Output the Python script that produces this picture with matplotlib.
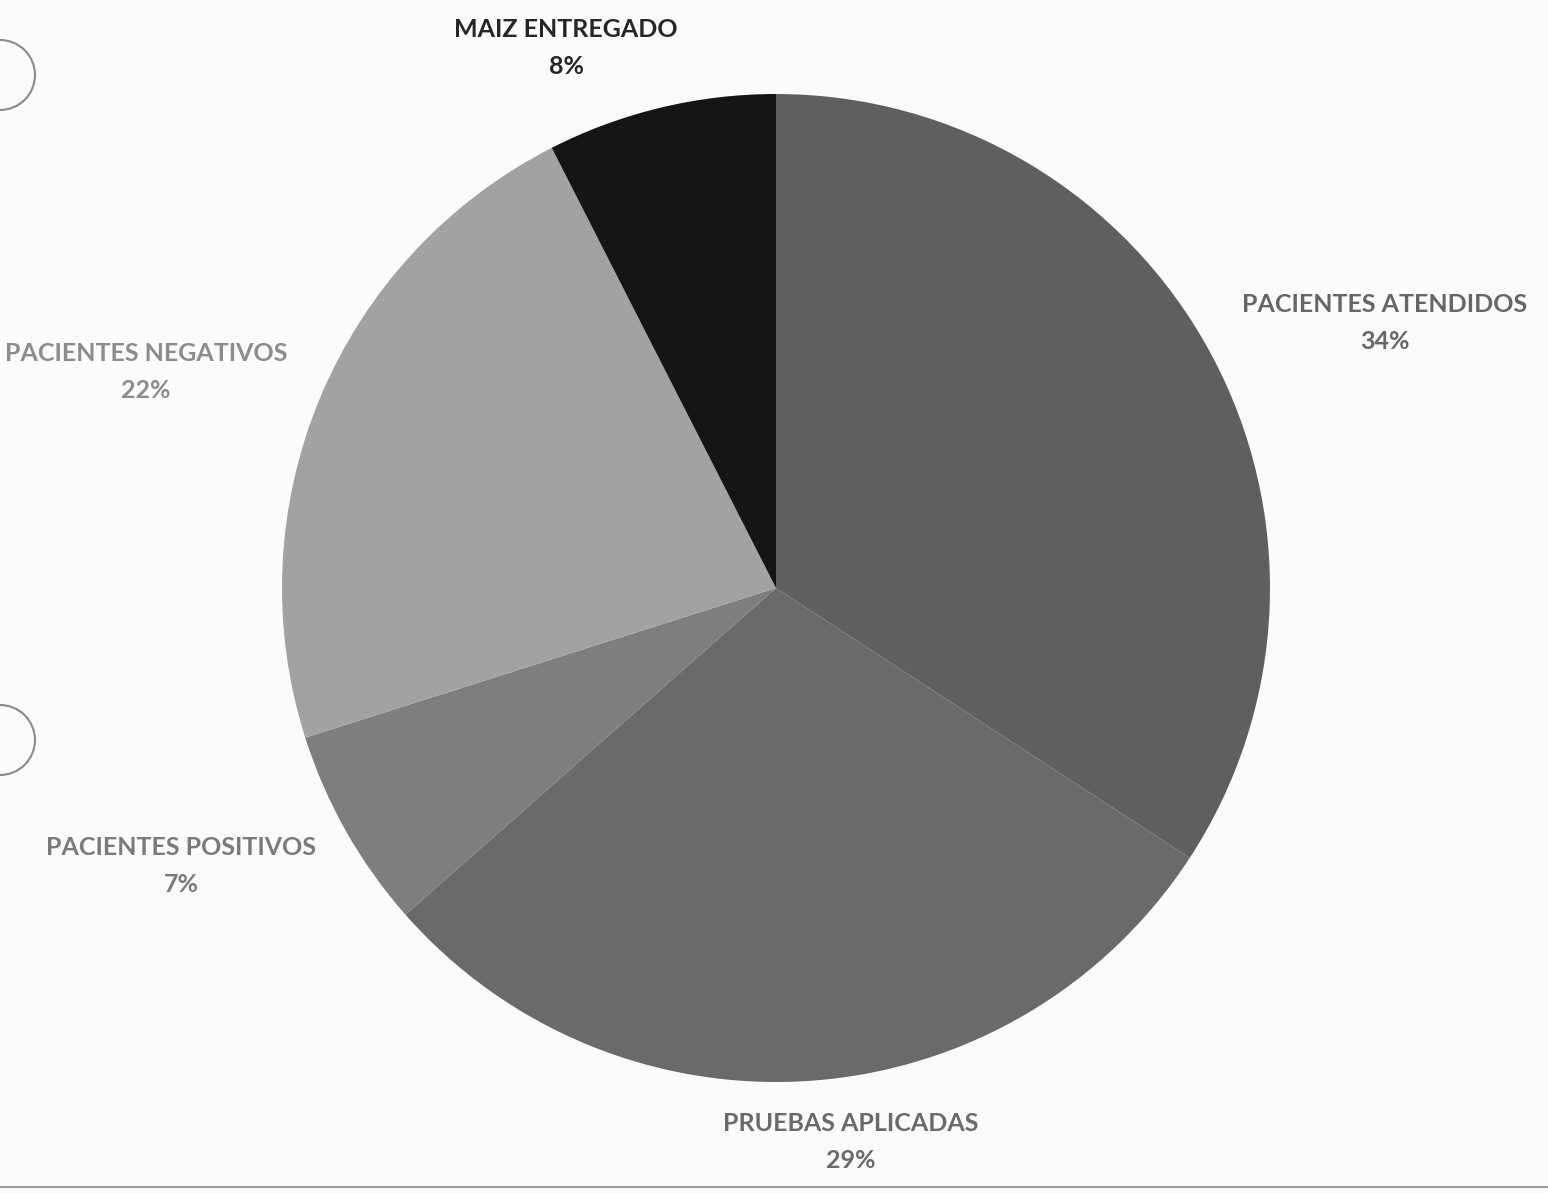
import matplotlib
matplotlib.use("Agg")
import matplotlib.pyplot as plt
from matplotlib.patches import Circle

categories = ["PACIENTES ATENDIDOS", "PRUEBAS APLICADAS", "PACIENTES POSITIVOS",
              "PACIENTES NEGATIVOS", "MAIZ ENTREGADO"]
values = [34.2, 29.3, 6.6, 22.4, 7.5]

slice_colors = ["#5f5f5f", "#6a6a6a", "#7e7e7e", "#a2a2a2", "#151515"]
label_colors = ["#666666", "#6a6a6a", "#7a7a7a", "#8c8c8c", "#262626"]
# label anchor positions (pixels, top-left origin)
label_pos = [(1385, 323), (851, 1142), (181, 866), (146, 372), (566, 48)]

W, H = 1548, 1193
fig = plt.figure(figsize=(W / 100, H / 100), dpi=100)
fig.patch.set_facecolor("#fbfbfb")
ax = fig.add_axes([0, 0, 1, 1])

ax.pie(values, colors=slice_colors, startangle=90, counterclock=False,
       center=(776, H - 588), radius=494, frame=True,
       wedgeprops=dict(linewidth=0))
ax.set_xlim(0, W)
ax.set_ylim(0, H)
ax.set_aspect("equal")
ax.axis("off")

total = sum(values)
for cat, v, col, (x, y) in zip(categories, values, label_colors, label_pos):
    pct = round(100 * v / total)
    ax.text(x, H - y, f"{cat}\n{pct}%", ha="center", va="center",
            fontsize=18, fontweight="bold", family=["Lato", "DejaVu Sans"],
            color=col, linespacing=1.75)

# scan artifacts: punch holes and bottom edge line
for cy in (75, 740):
    ax.add_patch(Circle((0, H - cy), 35, fill=False, edgecolor="#8a8a8a",
                        linewidth=1.5, clip_on=True))
ax.plot([0, W], [H - 1187, H - 1187], color="#9a9a9a", linewidth=1.5)

fig.savefig("out.png", dpi=100, facecolor=fig.get_facecolor())
